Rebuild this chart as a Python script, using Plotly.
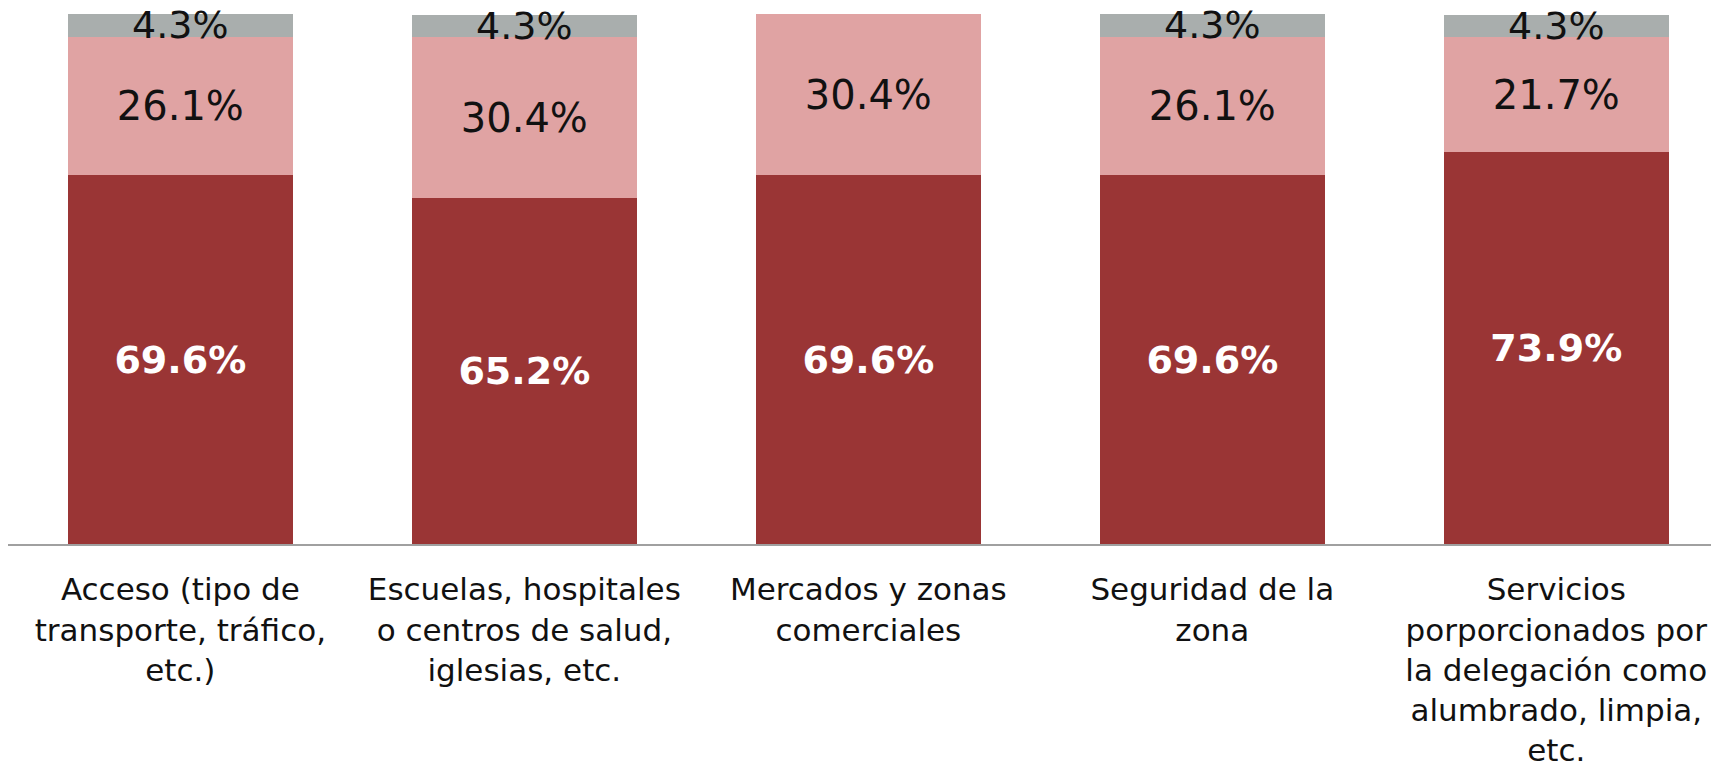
import plotly.graph_objects as go

# categories (x axis labels)
categories = [
    "Acceso (tipo de<br>transporte, tráfico,<br>etc.)",
    "Escuelas, hospitales<br>o centros de salud,<br>iglesias, etc.",
    "Mercados y zonas<br>comerciales",
    "Seguridad de la<br>zona",
    "Servicios<br>porporcionados por<br>la delegación como<br>alumbrado, limpia,<br>etc.",
]

# stacked shares (%), bottom to top
dark_vals = [69.6, 65.2, 69.6, 69.6, 73.9]
pink_vals = [26.1, 30.4, 30.4, 26.1, 21.7]
gray_vals = [4.3, 4.3, 0, 4.3, 4.3]


def labels(vals):
    return ["%.1f%%" % v if v > 0 else "" for v in vals]


fig = go.Figure()

fig.add_trace(go.Bar(
    x=categories, y=dark_vals, text=labels(dark_vals),
    marker=dict(color="#9A3535", line=dict(width=0)),
    textfont=dict(family="DejaVu Sans", size=38, color="white", weight="bold"),
))
fig.add_trace(go.Bar(
    x=categories, y=pink_vals, text=labels(pink_vals),
    marker=dict(color="#E0A3A3", line=dict(width=0)),
    textfont=dict(family="DejaVu Sans", size=40, color="#111111"),
))
fig.add_trace(go.Bar(
    x=categories, y=gray_vals, text=labels(gray_vals),
    marker=dict(color="#A9AEAD", line=dict(width=0)),
    textfont=dict(family="DejaVu Sans", size=38, color="#111111"),
))

fig.update_traces(textposition="inside", insidetextanchor="middle",
                  constraintext="none", textangle=0, hoverinfo="skip",
                  cliponaxis=False)

# page has an 8px body margin, so the figure is a bit smaller than the window
fig.update_layout(
    barmode="stack",
    bargap=0.346,
    width=1711, height=754,
    margin=dict(l=0, r=0, t=6, b=218),
    paper_bgcolor="white", plot_bgcolor="white",
    showlegend=False,
    font=dict(family="DejaVu Sans", color="#111111"),
)
fig.update_xaxes(
    range=[-0.501, 4.473], automargin=False,
    showline=True, linecolor="#A0A0A0", linewidth=2,
    ticks="", ticklabelstandoff=17,
    tickfont=dict(family="DejaVu Sans", size=31, color="#111111"),
    showgrid=False,
)
fig.update_yaxes(range=[0, 100], visible=False, showgrid=False, automargin=False)

fig.write_html("out.html")
